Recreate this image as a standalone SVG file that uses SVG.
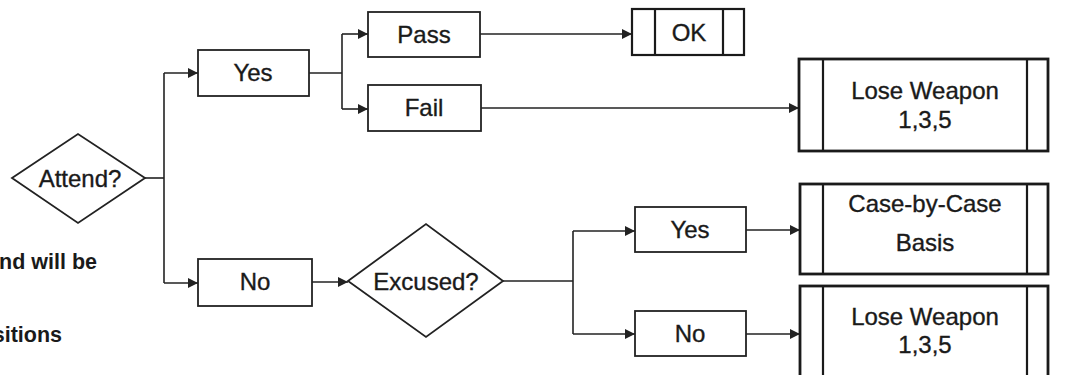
<svg xmlns="http://www.w3.org/2000/svg" width="1070" height="375" viewBox="0 0 1070 375">
<style>
text{font-family:"Liberation Sans",Arial,sans-serif;font-size:24px;fill:#1a1a1a;stroke:#1a1a1a;stroke-width:0.35;text-anchor:middle}
.box{fill:#fff;stroke:#222;stroke-width:1.8}
.term{fill:#fff;stroke:#1a1a1a;stroke-width:2.8}
.inner{stroke:#1a1a1a;stroke-width:2.2;fill:none}
.c{fill:none;stroke:#222;stroke-width:1.6}
.note{font-weight:bold;font-size:21.5px;text-anchor:end;stroke-width:0}
</style>
<defs>
<marker id="arr" viewBox="0 0 10 10" refX="10" refY="5" markerWidth="13" markerHeight="10" markerUnits="userSpaceOnUse" orient="auto">
<path d="M0,0 L10,5 L0,10 z" fill="#222"/>
</marker>
</defs>
<rect width="1070" height="375" fill="#fff"/>
<g id="notes">
<text class="note" x="97" y="269">nd will be</text>
<text class="note" x="62" y="342">sitions</text>
</g>
<g id="connectors">
<path class="c" d="M145,178 H164"/>
<path class="c" d="M164,73 V283"/>
<path class="c" d="M164,73 H198" marker-end="url(#arr)"/>
<path class="c" d="M164,283 H198" marker-end="url(#arr)"/>
<path class="c" d="M309,73 H342"/>
<path class="c" d="M342,34 V109"/>
<path class="c" d="M342,34 H368" marker-end="url(#arr)"/>
<path class="c" d="M342,109 H368" marker-end="url(#arr)"/>
<path class="c" d="M480,34 H632" marker-end="url(#arr)"/>
<path class="c" d="M481,108 H799" marker-end="url(#arr)"/>
<path class="c" d="M312,282 H348" marker-end="url(#arr)"/>
<path class="c" d="M503,281 H573"/>
<path class="c" d="M573,231 V334"/>
<path class="c" d="M573,231 H635" marker-end="url(#arr)"/>
<path class="c" d="M573,334 H635" marker-end="url(#arr)"/>
<path class="c" d="M746,230 H800" marker-end="url(#arr)"/>
<path class="c" d="M746,334 H800" marker-end="url(#arr)"/>
</g>
<g id="attend">
<polygon class="box" points="12,178 78,134 145,178 78,223"/>
<text x="80" y="187">Attend?</text>
</g>
<g id="yes1">
<rect class="box" x="198" y="50" width="111" height="46"/>
<text x="253" y="81">Yes</text>
</g>
<g id="pass">
<rect class="box" x="368" y="12" width="112" height="45"/>
<text x="424" y="43">Pass</text>
</g>
<g id="fail">
<rect class="box" x="368" y="85" width="113" height="46"/>
<text x="424" y="116">Fail</text>
</g>
<g id="ok">
<rect class="term" x="632" y="9" width="112" height="46" style="stroke-width:2.2"/>
<path class="inner" d="M655,9 V55 M723,9 V55"/>
<text x="689" y="41">OK</text>
</g>
<g id="lose1">
<rect class="term" x="799" y="59" width="249" height="92"/>
<path class="inner" d="M823,59 V151 M1027,59 V151"/>
<text x="925" y="99">Lose Weapon</text>
<text x="925" y="128">1,3,5</text>
</g>
<g id="no1">
<rect class="box" x="198" y="259" width="114" height="47"/>
<text x="255" y="290">No</text>
</g>
<g id="excused">
<polygon class="box" points="348,281 426,224 503,281 426,337"/>
<text x="426" y="290">Excused?</text>
</g>
<g id="yes2">
<rect class="box" x="635" y="207" width="111" height="45"/>
<text x="690" y="238">Yes</text>
</g>
<g id="no2">
<rect class="box" x="635" y="311" width="111" height="45"/>
<text x="690" y="342">No</text>
</g>
<g id="case">
<rect class="term" x="800" y="184" width="248" height="90"/>
<path class="inner" d="M823,184 V274 M1027,184 V274"/>
<text x="925" y="212">Case-by-Case</text>
<text x="925" y="251">Basis</text>
</g>
<g id="lose2">
<rect class="term" x="800" y="286" width="248" height="100"/>
<path class="inner" d="M823,286 V386 M1027,286 V386"/>
<text x="925" y="325">Lose Weapon</text>
<text x="925" y="353">1,3,5</text>
</g>
</svg>
